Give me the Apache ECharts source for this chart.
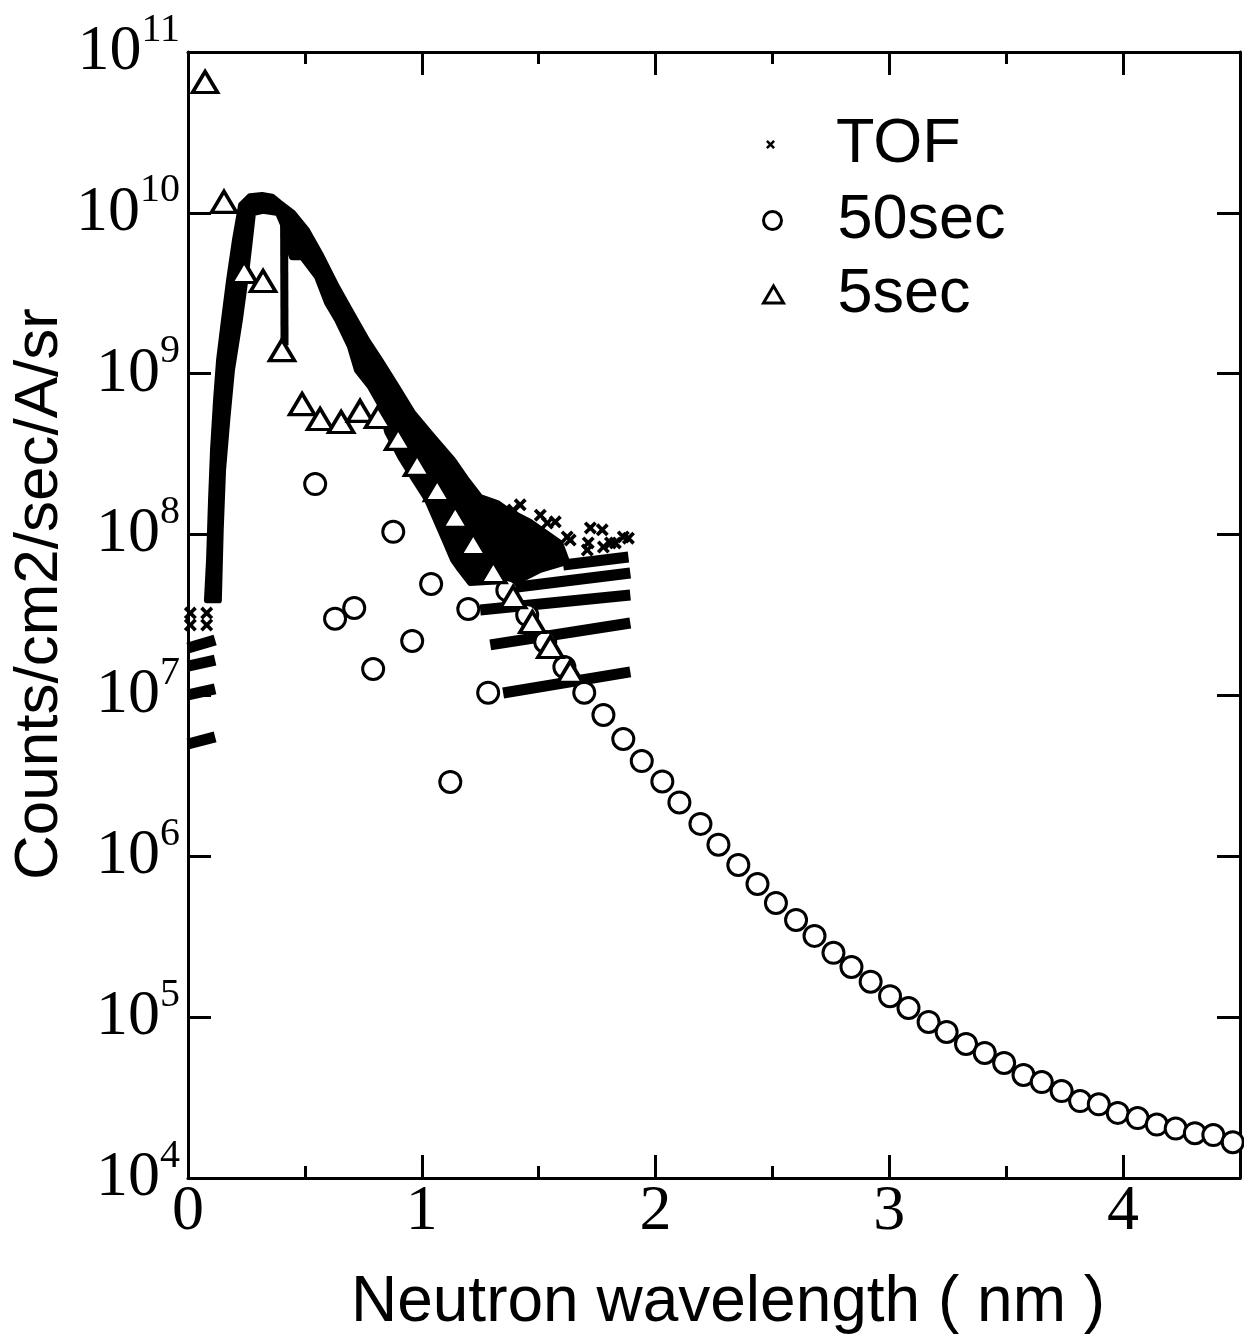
<!DOCTYPE html>
<html>
<head>
<meta charset="utf-8">
<script src="https://cdn.jsdelivr.net/npm/echarts@6/dist/echarts.min.js"></script>
<style>
html, body { margin: 0; padding: 0; background: #fff; }
#chart { width: 1244px; height: 1338px; }
</style>
</head>
<body>
<div id="chart"></div>
<script>
// 50sec measurement (open circles)
const sec50X = [0.544, 0.629, 0.711, 0.792, 0.878, 0.959, 1.040, 1.122, 1.199, 1.284,
  1.366, 1.451, 1.528, 1.610, 1.695, 1.777, 1.862, 1.941, 2.029, 2.102,
  2.192, 2.269, 2.354, 2.436, 2.515, 2.601, 2.680, 2.761, 2.838, 2.920,
  3.003, 3.082, 3.168, 3.245, 3.328, 3.408, 3.491, 3.574, 3.652, 3.737,
  3.816, 3.896, 3.977, 4.062, 4.144, 4.225, 4.307, 4.386, 4.469]
const sec50Y = [2.06e8, 3.0e7, 3.5e7, 1.46e7, 1.04e8, 2.18e7, 4.93e7, 2.9e6, 3.45e7, 1.04e7,
  4.5e7, 3.16e7, 2.15e7, 1.5e7, 1.04e7, 7.56e6, 5.36e6, 3.91e6, 2.92e6, 2.16e6,
  1.59e6, 1.18e6, 8.83e5, 6.73e5, 5.13e5, 4.02e5, 3.2e5, 2.51e5, 2.05e5, 1.66e5,
  1.35e5, 1.14e5, 9.33e4, 8.09e4, 6.81e4, 5.99e4, 5.19e4, 4.37e4, 3.95e4, 3.47e4,
  3.01e4, 2.87e4, 2.54e4, 2.36e4, 2.15e4, 2.03e4, 1.9e4, 1.85e4, 1.67e4]

// 5sec measurement (open triangles)
const sec5X = [0.073, 0.154, 0.240, 0.321, 0.402, 0.488, 0.565, 0.655, 0.736, 0.813,
  0.899, 0.980, 1.066, 1.143, 1.220, 1.306, 1.391, 1.473, 1.550, 1.635]
const sec5Y = [6.51e10, 1.17e10, 4.29e9, 3.77e9, 1.40e9, 6.48e8, 5.23e8, 5.01e8, 5.87e8, 5.38e8,
  3.93e8, 2.71e8, 1.89e8, 1.29e8, 8.74e7, 5.85e7, 4.09e7, 2.86e7, 2.0e7, 1.40e7]

// TOF: the dense band of points, outer edge then inner edge
const tofBand = [
  [0.081, 3.9e7], [0.090, 6.95e7], [0.0985, 1.64e8], [0.107, 3.36e8], [0.120, 6.87e8],
  [0.133, 1.22e9], [0.154, 2.16e9], [0.1755, 3.8e9], [0.201, 6.8e9], [0.227, 1.12e10],
  [0.265, 1.27e10], [0.317, 1.29e10], [0.360, 1.26e10], [0.394, 1.15e10], [0.449, 9.98e9],
  [0.509, 7.8e9], [0.565, 5.6e9], [0.638, 3.46e9], [0.693, 2.49e9], [0.766, 1.62e9],
  [0.822, 1.22e9], [0.895, 8.27e8], [0.963, 5.70e8], [1.049, 4.05e8], [1.134, 2.91e8],
  [1.194, 2.18e8], [1.250, 1.71e8], [1.323, 1.57e8], [1.366, 1.42e8], [1.464, 1.20e8],
  [1.592, 8.87e7], [1.622, 6.76e7],
  [1.507, 6.03e7], [1.421, 5.22e7], [1.207, 5.0e7], [1.164, 6.03e7], [1.134, 6.95e7],
  [1.092, 9.66e7], [1.023, 1.64e8], [0.963, 2.25e8], [0.908, 3.03e8], [0.852, 4.34e8],
  [0.822, 6.4e8], [0.779, 8.27e8], [0.723, 1.05e9], [0.693, 1.47e9], [0.638, 2.16e9],
  [0.595, 2.75e9], [0.552, 4.0e9], [0.488, 5.3e9], [0.445, 5.3e9], [0.4195, 6.8e9],
  [0.407, 8.4e9], [0.385, 9.98e9], [0.321, 1.03e10], [0.278, 9.98e9], [0.265, 6.8e9],
  [0.245, 3.8e9], [0.222, 2.16e9], [0.188, 1.05e9], [0.168, 5.15e8], [0.150, 2.52e8],
  [0.140, 1.07e8], [0.132, 3.9e7]
]
// TOF: drop at ~0.41 nm
const tofNotch = [[0.411, 9.6e9], [0.413, 1.5e9]]
// TOF: flat rows of points (low-count channels)
const tofStripes = [
  [[1.605, 6.47e7], [1.884, 7.26e7]],
  [[1.408, 4.72e7], [1.892, 5.77e7]],
  [[1.250, 3.40e7], [1.892, 4.21e7]],
  [[1.293, 2.06e7], [1.892, 2.82e7]],
  [[1.348, 1.035e7], [1.892, 1.40e7]],
  [[0.0, 1.97e7], [0.116, 2.21e7]],
  [[0.0, 1.52e7], [0.116, 1.66e7]],
  [[0.0, 1.007e7], [0.116, 1.10e7]],
  [[0.0, 4.99e6], [0.116, 5.52e6]]
]
// TOF: isolated points
const tofSpots = [
  [1.391, 1.42e8], [1.434, 1.15e8], [1.537, 1.18e8], [1.622, 9.66e7], [1.635, 9.25e7],
  [1.712, 8.87e7], [1.708, 8.02e7], [1.772, 1.07e8], [1.807, 8.87e7], [1.777, 8.37e7],
  [1.862, 9.66e7], [1.421, 1.53e8], [1.507, 1.32e8], [1.571, 1.20e8], [1.721, 1.10e8],
  [1.828, 8.87e7], [1.884, 9.5e7],
  [0.01, 3.25e7], [0.08, 3.25e7], [0.01, 2.74e7], [0.08, 2.74e7]
]

const crossPath = 'path://M0,2L2,0L5,3L8,0L10,2L7,5L10,8L8,10L5,7L2,10L0,8L3,5Z'
const serif = 'Liberation Serif'
const sans = 'Liberation Sans'

const chart = echarts.init(document.getElementById('chart'))

const baseX = {
  type: 'value', min: 0, max: 4.5, gridIndex: 0,
  splitLine: { show: false },
  axisLine: { show: true, onZero: false, lineStyle: { color: '#000', width: 3 } }
}
const baseY = {
  type: 'log', logBase: 10, min: 1e4, max: 1e11, gridIndex: 0,
  splitLine: { show: false },
  axisLine: { show: true, onZero: false, lineStyle: { color: '#000', width: 3 } }
}
const legendText = { color: '#000', fontFamily: sans, fontSize: 63 }

const option = {
  animation: false,
  backgroundColor: '#fff',
  grid: { left: 188, right: 4, top: 52, bottom: 160, outerBoundsMode: 'none' },
  xAxis: [
    {
      ...baseX, position: 'bottom', interval: 1,
      axisTick: { inside: true, length: 23, lineStyle: { color: '#000', width: 3 } },
      axisLabel: {
        color: '#000', fontFamily: serif, fontSize: 64, margin: 2, showMaxLabel: true,
        formatter: v => (Number.isInteger(v) ? String(v) : '')
      }
    },
    {
      ...baseX, position: 'bottom', interval: 0.5,
      axisLine: { show: false },
      axisTick: { inside: true, length: 12, lineStyle: { color: '#000', width: 3 } },
      axisLabel: { show: false }
    },
    {
      ...baseX, position: 'top', interval: 1,
      axisTick: { inside: true, length: 23, lineStyle: { color: '#000', width: 3 } },
      axisLabel: { show: false }
    },
    {
      ...baseX, position: 'top', interval: 0.5,
      axisLine: { show: false },
      axisTick: { inside: true, length: 12, lineStyle: { color: '#000', width: 3 } },
      axisLabel: { show: false }
    }
  ],
  yAxis: [
    {
      ...baseY, position: 'left',
      axisTick: { inside: true, length: 23, lineStyle: { color: '#000', width: 3 } },
      axisLabel: {
        margin: 8,
        formatter: v => '{b|10}{s|' + Math.round(Math.log10(v)) + '}',
        rich: {
          b: { color: '#000', fontFamily: serif, fontSize: 64, lineHeight: 84 },
          s: { color: '#000', fontFamily: serif, fontSize: 40, lineHeight: 16, verticalAlign: 'top' }
        }
      }
    },
    {
      ...baseY, position: 'right',
      axisTick: { inside: true, length: 23, lineStyle: { color: '#000', width: 3 } },
      axisLabel: { show: false }
    }
  ],
  legend: [
    {
      data: [{ name: 'TOF', icon: crossPath }], selectedMode: false, padding: 0,
      left: 766, top: 113, itemWidth: 9, itemHeight: 9,
      itemStyle: { color: '#000', borderWidth: 0 },
      textStyle: { ...legendText, padding: [0, 0, 0, 56] }
    },
    {
      data: [{ name: '50sec', icon: 'circle' }], selectedMode: false, padding: 0,
      left: 762, top: 189, itemWidth: 18, itemHeight: 18,
      itemStyle: { color: '#fff', borderColor: '#000', borderWidth: 3 },
      textStyle: { ...legendText, padding: [0, 0, 0, 51] }
    },
    {
      data: [{ name: '5sec', icon: 'triangle' }], selectedMode: false, padding: 0,
      left: 762, top: 263, itemWidth: 20, itemHeight: 17,
      itemStyle: { color: '#fff', borderColor: '#000', borderWidth: 3 },
      textStyle: { ...legendText, padding: [0, 0, 0, 49] }
    }
  ],
  graphic: [
    {
      type: 'text', x: 728, y: 1303,
      style: {
        text: 'Neutron wavelength ( nm )', fill: '#000', fontFamily: sans, fontSize: 64,
        align: 'center', verticalAlign: 'middle'
      }
    },
    {
      type: 'text', x: 40, y: 594, rotation: Math.PI / 2,
      style: {
        text: 'Counts/cm2/sec/A/sr', fill: '#000', fontFamily: sans, fontSize: 62,
        align: 'center', verticalAlign: 'middle'
      }
    }
  ],
  series: [
    {
      name: 'TOF', type: 'custom', xAxisIndex: 0, yAxisIndex: 0, z: 1,
      itemStyle: { color: '#000' },
      data: [[1, 1e8]],
      renderItem: (params, api) => {
        const children = [{
          type: 'polygon',
          shape: { points: tofBand.map(p => api.coord(p)) },
          style: { fill: '#000', stroke: '#000', lineWidth: 6, lineJoin: 'round' }
        }, {
          type: 'polyline',
          shape: { points: tofNotch.map(p => api.coord(p)) },
          style: { stroke: '#000', lineWidth: 8, fill: null }
        }]
        tofStripes.forEach(seg => {
          children.push({
            type: 'polyline',
            shape: { points: seg.map(p => api.coord(p)) },
            style: { stroke: '#000', lineWidth: 11, fill: null }
          })
        })
        return { type: 'group', children }
      }
    },
    {
      name: 'TOF', type: 'scatter', xAxisIndex: 0, yAxisIndex: 0, z: 1,
      symbol: crossPath, symbolSize: 13,
      itemStyle: { color: '#000', opacity: 1 },
      data: tofSpots
    },
    {
      name: '50sec', type: 'scatter', xAxisIndex: 0, yAxisIndex: 0, z: 2,
      symbol: 'circle', symbolSize: 21,
      itemStyle: { color: '#fff', borderColor: '#000', borderWidth: 3, opacity: 1 },
      data: sec50X.map((x, i) => [x, sec50Y[i]])
    },
    {
      name: '5sec', type: 'scatter', xAxisIndex: 0, yAxisIndex: 0, z: 3,
      symbol: 'triangle', symbolSize: [25, 21],
      itemStyle: { color: '#fff', borderColor: '#000', borderWidth: 3.5, opacity: 1 },
      data: sec5X.map((x, i) => [x, sec5Y[i]])
    }
  ]
}

chart.setOption(option)
</script>
</body>
</html>
